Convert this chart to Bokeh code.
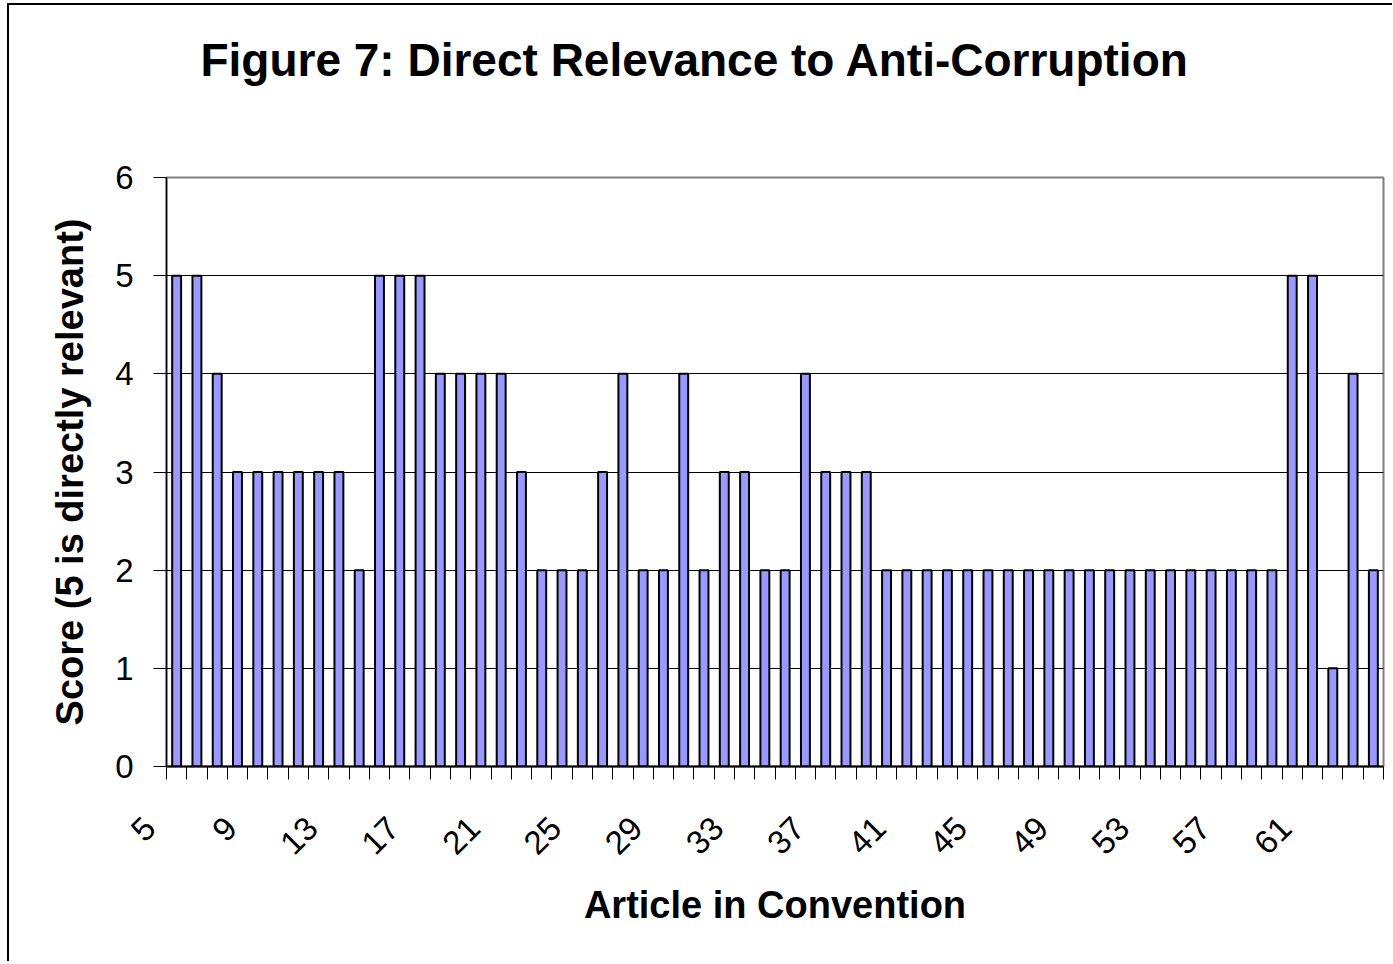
import math
from bokeh.plotting import figure
from bokeh.models import Range1d, FixedTicker, Label, CustomJSTickFormatter
from bokeh.embed import file_html
from bokeh.resources import INLINE
from bokeh.core.properties import value

# ---- data ----
articles = [5, 6, 7, 8, 9, 10, 11, 12, 13, 14,
            15, 16, 17, 18, 19, 20, 21, 22, 23, 24,
            25, 26, 27, 28, 29, 30, 31, 32, 33, 34,
            35, 36, 37, 38, 39, 40, 41, 42, 43, 44,
            45, 46, 47, 48, 49, 50, 51, 52, 53, 54,
            55, 56, 57, 58, 59, 60, 61, 62, 63, 64]
scores = [5, 5, 4, 3, 3, 3, 3, 3, 3, 2,
          5, 5, 5, 4, 4, 4, 4, 3, 2, 2,
          2, 3, 4, 2, 2, 4, 2, 3, 3, 2,
          2, 4, 3, 3, 3, 2, 2, 2, 2, 2,
          2, 2, 2, 2, 2, 2, 2, 2, 2, 2,
          2, 2, 2, 2, 2, 5, 5, 1, 4, 2]
label_articles = [5, 9, 13, 17, 21, 25, 29, 33, 37, 41, 45, 49, 53, 57, 61]
y_ticks = [0, 1, 2, 3, 4, 5, 6]

title_text = "Figure 7: Direct Relevance to Anti-Corruption"
x_title = "Article in Convention"
y_title = "Score (5 is directly relevant)"

FONT = "Liberation Sans"

boundaries = [a - 0.5 for a in articles] + [articles[-1] + 0.5]
x_lo, x_hi = articles[0] - 0.5, articles[-1] + 0.5

p = figure(frame_width=1217, frame_height=589,
           min_border_left=157, min_border_top=172, min_border_right=9, min_border_bottom=195,
           x_range=Range1d(x_lo, x_hi),
           y_range=Range1d(y_ticks[0], y_ticks[-1]),
           output_backend="svg", toolbar_location=None,
           background_fill_color="white", border_fill_color="white")
p.styles = {"border-left": "2px solid black", "border-top": "2px solid black",
            "margin-left": "7px", "margin-top": "3px"}

p.vbar(x=articles, top=scores, bottom=0, width=0.44,
       fill_color="#9999FF", line_color="black", line_width=2)

p.outline_line_color = "#808080"
p.outline_line_width = 2

# grid
p.xgrid.visible = False
p.ygrid.ticker = FixedTicker(ticks=y_ticks[1:-1])
p.ygrid.grid_line_color = "black"
p.ygrid.grid_line_width = 1

# y axis
yax = p.yaxis[0]
yax.ticker = FixedTicker(ticks=y_ticks)
yax.major_tick_out = 13
yax.major_tick_in = 0
yax.minor_tick_line_color = None
yax.major_tick_line_color = "black"
yax.axis_line_color = "black"
yax.axis_line_width = 1.5
yax.major_label_text_font = FONT
yax.major_label_text_font_size = "33px"
yax.major_label_text_color = "black"
yax.major_label_standoff = 20
yax.axis_label = y_title
yax.axis_label_text_font = FONT
yax.axis_label_text_font_size = "38px"
yax.axis_label_text_font_style = "bold"
yax.axis_label_text_color = "black"
yax.axis_label_standoff = 21

# x axis
xax = p.xaxis[0]
xax.ticker = FixedTicker(ticks=boundaries)
xax.formatter = CustomJSTickFormatter(code="return ''")
xax.major_label_text_font_size = "0px"
xax.major_tick_out = 13
xax.major_tick_in = 0
xax.minor_tick_line_color = None
xax.major_tick_line_color = "black"
xax.axis_line_color = "black"
xax.axis_line_width = 2
xax.axis_label = x_title
xax.axis_label_text_font = FONT
xax.axis_label_text_font_size = "38px"
xax.axis_label_text_font_style = "bold"
xax.axis_label_text_color = "black"
xax.axis_label_standoff = 104

# rotated category labels, drawn at overlay level (outside the frame clip)
p.text(x=label_articles, y=[y_ticks[0]] * len(label_articles),
       text=[str(a) for a in label_articles],
       angle=math.pi / 4, text_align="right", text_baseline="middle",
       x_offset=-27, y_offset=56,
       text_font=value(FONT), text_font_size="33px", text_color="black",
       level="overlay")

# title
p.add_layout(Label(x=(x_lo + x_hi) / 2, y=y_ticks[-1], x_offset=-80, y_offset=118,
                   text=title_text, text_align="center", text_baseline="alphabetic",
                   text_font=FONT, text_font_size="46px", text_font_style="bold",
                   text_color="black"),
             "above")

open("out.html", "w").write(file_html(p, INLINE))
